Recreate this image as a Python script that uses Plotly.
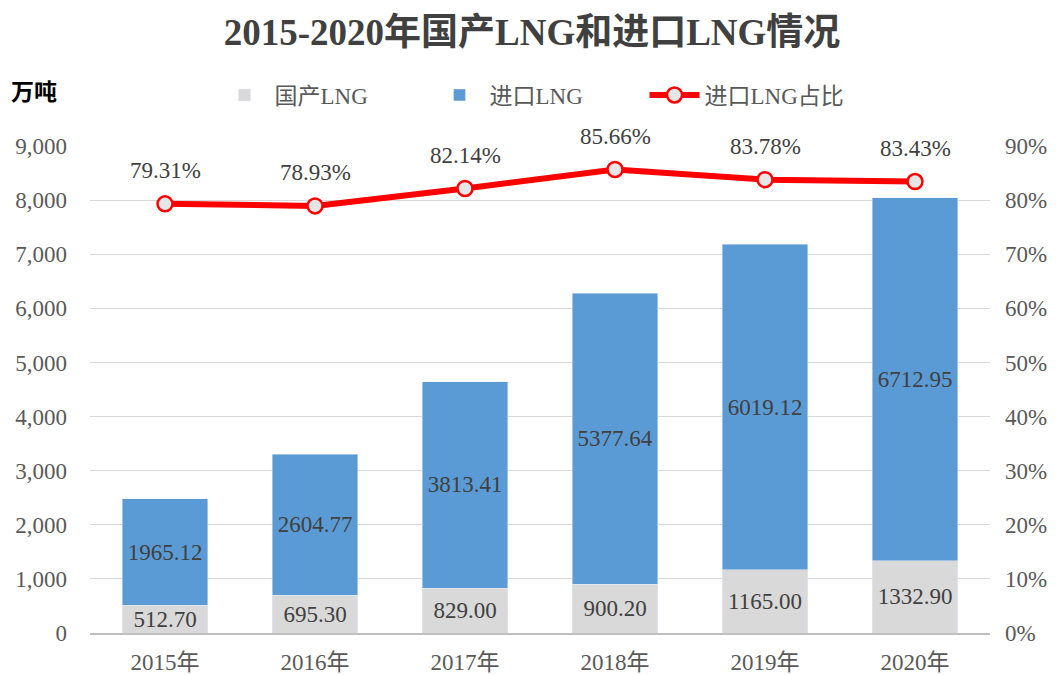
import plotly.graph_objects as go

years = ["2015年", "2016年", "2017年", "2018年", "2019年", "2020年"]
domestic = [512.70, 695.30, 829.00, 900.20, 1165.00, 1332.90]
imported = [1965.12, 2604.77, 3813.41, 5377.64, 6019.12, 6712.95]
share = [79.31, 78.93, 82.14, 85.66, 83.78, 83.43]

y_ticks = [0, 1000, 2000, 3000, 4000, 5000, 6000, 7000, 8000, 9000]
y2_ticks = [0, 10, 20, 30, 40, 50, 60, 70, 80, 90]
y2_labels = [f"{v}%" for v in y2_ticks]

FONT = "Liberation Serif, Times New Roman, Noto Sans CJK SC, serif"
TXT = "#404040"
AX = "#595959"
FS = 23

# page body has an 8px margin; figure is sized so the plot lands where the reference's does
W, H = 1051, 667
L, T, R, B = 82, 138, 69, 42
PH = H - T - B

fig = go.Figure()
fig.add_trace(go.Bar(
    x=years, y=domestic, name="国产LNG",
    marker=dict(color="#D9D9D9"),
    text=[f"{v:.2f}" for v in domestic], textposition="inside",
    insidetextanchor="middle", constraintext="none",
    textfont=dict(family=FONT, size=FS, color=TXT),
))
fig.add_trace(go.Bar(
    x=years, y=imported, name="进口LNG",
    marker=dict(color="#5B9BD5"),
    text=[f"{v:.2f}" for v in imported], textposition="inside",
    insidetextanchor="middle", constraintext="none",
    textfont=dict(family=FONT, size=FS, color=TXT),
))
fig.add_trace(go.Scatter(
    x=years, y=share, name="进口LNG占比", yaxis="y2",
    mode="lines+markers",
    line=dict(color="#FF0000", width=6),
    marker=dict(size=15, color="#E6E6E6", line=dict(color="#FF0000", width=2.5)),
))

annotations = [dict(text=f"{v:.2f}%", x=yr, y=v, xref="x", yref="y2",
                    yshift=33, showarrow=False,
                    font=dict(family=FONT, size=FS, color=TXT))
               for yr, v in zip(years, share)]
annotations.append(dict(text="<b>万吨</b>", xref="paper", yref="paper",
                        x=(1 - L) / (W - L - R), xanchor="left",
                        y=(H - B - 82) / PH, yanchor="middle",
                        showarrow=False,
                        font=dict(family="Noto Sans CJK SC", size=23, color="#000000")))

fig.update_layout(
    width=W, height=H,
    margin=dict(l=L, r=R, t=T, b=B, autoexpand=False),
    paper_bgcolor="white", plot_bgcolor="white",
    barmode="stack", bargap=0.43,
    font=dict(family=FONT, size=FS, color=AX),
    title=dict(text="<b>2015-2020年国产LNG和进口LNG情况</b>",
               x=(532 - 8) / W, xanchor="center", y=1 - 24 / H, yanchor="middle",
               font=dict(family=FONT, size=37, color=TXT)),
    legend=dict(orientation="h", x=(537 - 8 - L) / (W - L - R), xanchor="center",
                y=(H - B - 87) / PH, yanchor="middle",
                font=dict(family=FONT, size=FS, color=AX), traceorder="normal",
                itemwidth=50, entrywidth=150),
    xaxis=dict(showgrid=False, showline=True, linecolor="#BFBFBF", linewidth=1.5,
               ticks="", tickfont=dict(family=FONT, size=FS, color=AX),
               ticklabelstandoff=8),
    yaxis=dict(range=[0, 9000], tickvals=y_ticks, tickformat=",",
               showgrid=True, gridcolor="#D9D9D9", gridwidth=1,
               zeroline=False, showline=False, ticks="",
               tickfont=dict(family=FONT, size=FS, color=AX), ticklabelstandoff=22),
    yaxis2=dict(range=[0, 90], tickvals=y2_ticks, ticktext=y2_labels,
                overlaying="y", side="right", showgrid=False, zeroline=False,
                showline=False, ticks="",
                tickfont=dict(family=FONT, size=FS, color=AX), ticklabelstandoff=14),
    annotations=annotations,
)

fig.write_html("out.html")
